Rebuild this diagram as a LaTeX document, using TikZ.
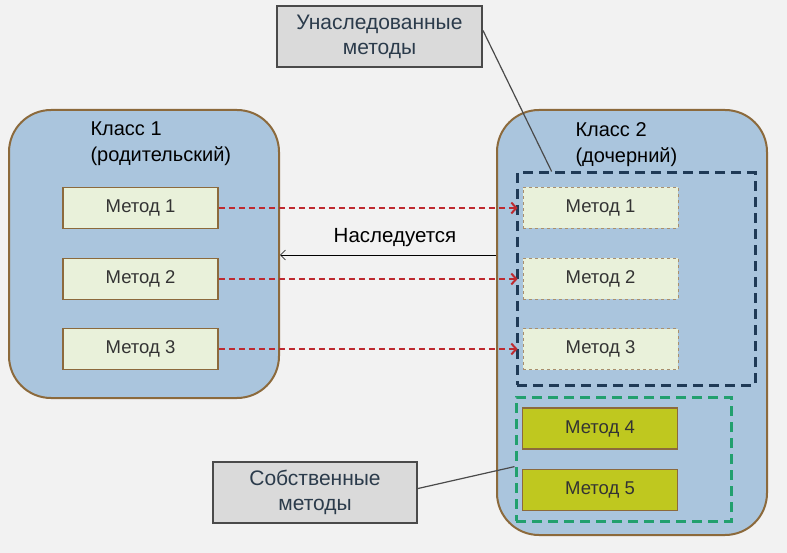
\documentclass[tikz,border=0pt]{standalone}
\usepackage{fontspec}
\setmainfont{Liberation Sans}
\usetikzlibrary{arrows.meta,calc}
\definecolor{bgGray}{HTML}{F2F2F2}
\definecolor{klassFill}{HTML}{AAC5DD}
\definecolor{klassEdge}{HTML}{8C6A3C}
\definecolor{metFill}{HTML}{E9F1DA}
\definecolor{ownFill}{HTML}{BFC81F}
\definecolor{inhEdge}{HTML}{1F3A56}
\definecolor{ownEdge}{HTML}{22A06E}
\definecolor{redArr}{HTML}{BE2A30}
\definecolor{noteFill}{HTML}{DADADA}
\definecolor{noteEdge}{HTML}{4A4A4A}
\definecolor{noteText}{HTML}{2B3B4B}

\begin{document}
\begin{tikzpicture}[x=1pt, y=-1pt,
    klass/.style={draw=klassEdge, line width=2pt, fill=klassFill, rounded corners=42pt},
    met/.style={draw=klassEdge, line width=1.8pt, fill=metFill, minimum width=155pt, minimum height=41pt,
      text=black!80, font=\fontsize{18.5}{20}\selectfont},
    note/.style={draw=noteEdge, line width=2pt, fill=noteFill, text=noteText, align=center,
      font=\fontsize{21}{25}\selectfont},
    inharr/.style={redArr, line width=2pt, dash pattern=on 6pt off 4pt,
      -{Straight Barb[length=5pt,width=11pt]}, shorten >=5pt}]
  \fill[bgGray] (0,0) rectangle (787,553);

  % classes
  \node[klass, minimum width=270pt, minimum height=288pt] (k1) at (144,254) {};
  \node[klass, minimum width=270pt, minimum height=425pt] (k2) at (632,322.5) {};
  \node[anchor=west, align=left, font=\fontsize{20}{26}\selectfont] (k1t) at (87,144) {Класс 1\\(родительский)};
  \node[anchor=west, align=left, font=\fontsize{20}{26}\selectfont] (k2t) at (572,145) {Класс 2\\(дочерний)};

  % groups
  \node[draw=inhEdge, line width=3pt, dash pattern=on 10pt off 6pt, minimum width=238pt, minimum height=212pt] (inh) at (636,279) {};
  \node[draw=ownEdge, line width=3pt, dash pattern=on 10pt off 6pt, minimum width=215pt, minimum height=124pt] (own) at (623.5,459) {};

  % methods
  \node[met] (a1) at (140.5,208) {Метод 1};
  \node[met] (a2) at (140.5,279) {Метод 2};
  \node[met] (a3) at (140.5,349) {Метод 3};
  \begin{scope}[every node/.style={met, draw=klassEdge!75, line width=0.7pt, dashed}]
    \node (b1) at (600.5,208) {Метод 1};
    \node (b2) at (600.5,279) {Метод 2};
    \node (b3) at (600.5,349) {Метод 3};
  \end{scope}
  \node[met, fill=ownFill] (b4) at (600,428.5) {Метод 4};
  \node[met, fill=ownFill] (b5) at (600,490) {Метод 5};

  \draw[inharr] (a1) -- (b1);
  \draw[inharr] (a2) -- (b2);
  \draw[inharr] (a3) -- (b3);

  % inheritance
  \coordinate (h) at (395,255);
  \draw[-{Straight Barb[length=5pt,width=10pt]}, line width=0.7pt] (k2.west |- h) -- (k1.east |- h);
  \node[font=\fontsize{20.5}{24}\selectfont] (ht) at (395,238) {Наследуется};

  % notes
  \node[note, minimum width=205pt, minimum height=61pt] (n1) at (379.5,36.5) {Унаследованные\\методы};
  \node[note, minimum width=204pt, minimum height=61pt] (n2) at (315,492.5) {Собственные\\методы};
  \draw[noteEdge, line width=1.2pt] ([yshift=6pt]n1.east) -- ($(inh.north west)!0.15!(inh.north east)$);
  \draw[noteEdge, line width=1.2pt] ([yshift=4pt]n2.east) -- ($(own.north west)!0.56!(own.south west)$);
\end{tikzpicture}
\end{document}
